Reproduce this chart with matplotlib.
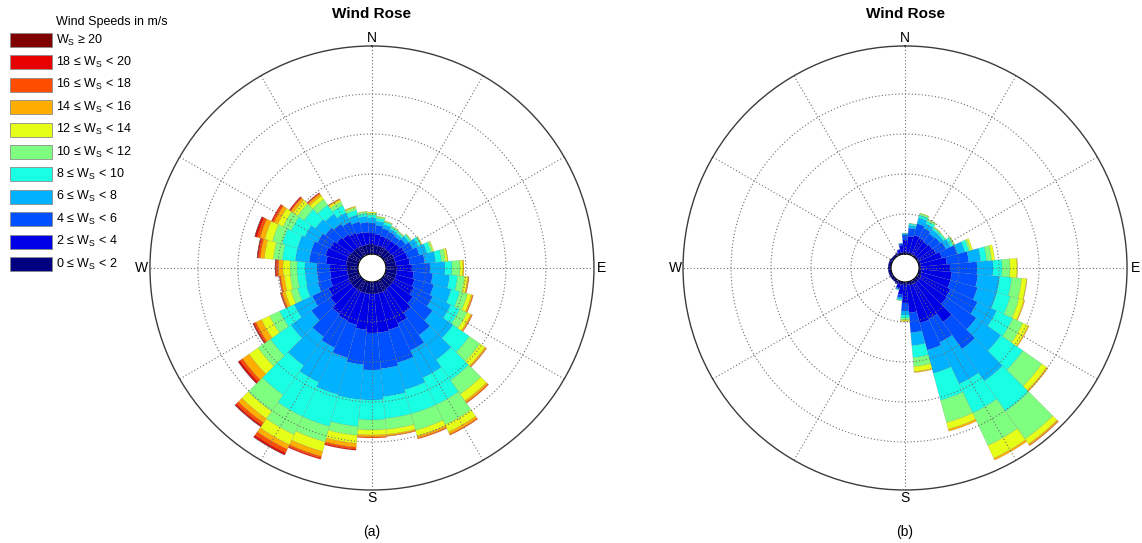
import numpy as np
import matplotlib.pyplot as plt
from matplotlib.patches import Rectangle

plt.rcParams['font.family'] = 'Liberation Sans'
plt.rcParams['mathtext.fontset'] = 'custom'
plt.rcParams['mathtext.rm'] = 'Liberation Sans'
plt.rcParams['mathtext.it'] = 'Liberation Sans:italic'

# sector centres (deg from north, clockwise)
directions = np.arange(0, 360, 10)

speed_labels = ['0 ≤ W$_\\mathregular{S}$ < 2', '2 ≤ W$_\\mathregular{S}$ < 4',
                '4 ≤ W$_\\mathregular{S}$ < 6', '6 ≤ W$_\\mathregular{S}$ < 8',
                '8 ≤ W$_\\mathregular{S}$ < 10', '10 ≤ W$_\\mathregular{S}$ < 12',
                '12 ≤ W$_\\mathregular{S}$ < 14', '14 ≤ W$_\\mathregular{S}$ < 16',
                '16 ≤ W$_\\mathregular{S}$ < 18', '18 ≤ W$_\\mathregular{S}$ < 20',
                'W$_\\mathregular{S}$ ≥ 20']
speed_colors = ['#000080', '#0000e6', '#0050ff', '#00b2ff', '#19ffe3', '#7fff7f',
                '#e6ff19', '#ffae00', '#ff4d00', '#e60000', '#800000']

# (a) counts per sector for each speed bin
a_00_02 = [10, 9, 9, 9, 9, 9, 10, 10, 10, 11, 11, 11, 11, 11, 11, 12, 12, 12,
           12, 12, 12, 12, 12, 12, 12, 11, 11, 11, 12, 12, 12, 11, 11, 10, 10, 10]
a_02_04 = [11, 11, 10, 10, 10, 11, 12, 13, 14, 15, 17, 19, 21, 25, 30, 35, 38, 39,
           39, 36, 33, 32, 30, 25, 22, 18, 17, 17, 20, 22, 20, 18, 16, 15, 13, 12]
a_04_06 = [10, 9, 8, 7, 6, 7, 9, 12, 15, 18, 19, 20, 21, 24, 27, 30, 34, 36,
           37, 35, 34, 30, 28, 23, 18, 13, 13, 13, 17, 15, 14, 14, 13, 12, 11, 10]
a_06_08 = [5, 4, 4, 3, 3, 4, 6, 8, 11, 15, 17, 18, 20, 25, 30, 30, 28, 28,
           30, 35, 38, 38, 35, 25, 20, 12, 12, 12, 14, 14, 14, 12, 12, 10, 7, 6]
a_08_10 = [3, 3, 2.5, 2, 2, 2, 3, 4, 6, 7, 8, 9, 10, 20, 25, 30, 25, 22,
           20, 27, 33, 38, 36, 25, 16, 9, 8, 8, 13, 16, 15, 14, 11, 8, 5, 3]
a_10_12 = [2, 1.5, 1, 1, 1, 1, 1, 2, 4, 8, 7, 8, 8, 13, 17, 22, 17, 11,
           10, 9, 16, 20, 20, 15, 11, 7, 7, 7, 9, 10, 9, 8, 7, 4, 2.5, 1.5]
a_12_14 = [1, 0.5, 0.5, 0.3, 0.3, 0.3, 0.5, 1, 2, 3, 3, 4, 4, 6, 8, 8, 6, 5,
           5, 8, 10, 11, 9, 11, 9, 6, 6, 7, 9, 8, 6, 5, 4, 2, 1, 0.5]
a_14_16 = [0, 0, 0, 0, 0, 0, 0, 0, 0.5, 1, 1, 1.5, 1.5, 1.5, 2, 2.5, 2, 1.5,
           2, 4, 5, 5, 5, 8, 6, 3, 3.5, 4.5, 4, 5, 4, 3, 2.5, 1, 0.5, 0]
a_16_18 = [0, 0, 0, 0, 0, 0, 0, 0, 0, 0, 0.5, 0.5, 0.5, 0.5, 1, 1, 1, 0.5,
           1, 2, 2, 4, 3, 3, 2, 1.5, 1, 2, 2, 3, 2, 1, 1, 0.5, 0, 0]
a_18_20 = [0, 0, 0, 0, 0, 0, 0, 0, 0, 0, 0, 0, 0, 0, 0, 0, 0, 0,
           0, 1, 1, 2, 1.5, 2, 1, 0.5, 0.5, 1, 1, 2, 1, 1, 0.5, 0, 0, 0]
a_20_up = [0, 0, 0, 0, 0, 0, 0, 0, 0, 0, 0, 0, 0, 0, 0, 0, 0, 0,
           0, 0, 0, 0.5, 0.5, 0.5, 0.5, 0, 0, 0.5, 0.5, 0.5, 0, 0, 0, 0, 0, 0]

# (b) counts per sector for each speed bin
b_00_02 = [2, 2, 2, 2, 2, 2, 2, 2, 2, 2, 3, 3, 4, 4, 4, 4, 4, 3,
           3, 3, 3, 3, 3, 3, 3, 3, 3, 3, 3, 3, 3, 2.5, 2.5, 2.5, 2, 2]
b_02_04 = [12, 16, 18, 17, 16, 17, 18, 22, 26, 29, 30, 30, 32, 33, 48, 38, 39, 28,
           18, 10, 4, 1, 0, 0, 0, 0, 0, 0, 0, 0, 0, 0, 0, 0.5, 3, 7]
b_04_06 = [5, 8, 12, 11, 10, 10, 11, 16, 22, 27, 26, 28, 30, 36, 33, 26, 28, 20,
           8, 3, 1, 0, 0, 0, 0, 0, 0, 0, 0, 0, 0, 0, 0, 0, 0.5, 1.5]
b_06_08 = [1.5, 3, 6, 5, 5, 4, 5, 8, 12, 16, 22, 20, 21, 30, 39, 46, 24, 13,
           4, 1.5, 0.5, 0, 0, 0, 0, 0, 0, 0, 0, 0, 0, 0, 0, 0, 0, 0.5]
b_08_10 = [0.5, 1.5, 3, 3, 2, 2, 3, 4, 6, 9, 12, 14, 18, 27, 37, 32, 28, 12,
           3, 1, 0.5, 0, 0, 0, 0, 0, 0, 0, 0, 0, 0, 0, 0, 0, 0, 0]
b_10_12 = [0, 0.5, 1.5, 1.5, 1, 1, 1.5, 2, 5, 8, 10, 9, 11, 23, 34, 36, 23, 9,
           2, 0.5, 0, 0, 0, 0, 0, 0, 0, 0, 0, 0, 0, 0, 0, 0, 0, 0]
b_12_14 = [0, 0, 0.5, 0.5, 0.5, 0, 0.5, 2, 3, 7, 5, 5, 6, 6, 6, 14, 7, 5,
           1, 0, 0, 0, 0, 0, 0, 0, 0, 0, 0, 0, 0, 0, 0, 0, 0, 0]
b_14_16 = [0, 0, 0, 0, 0, 0, 0, 0, 0, 0.5, 0.5, 1, 1, 1.5, 1.5, 2, 2, 1,
           0.5, 0, 0, 0, 0, 0, 0, 0, 0, 0, 0, 0, 0, 0, 0, 0, 0, 0]
b_16_18 = [0, 0, 0, 0, 0, 0, 0, 0, 0, 0, 0, 0, 0, 0, 0.5, 0, 0, 0,
           0, 0, 0, 0, 0, 0, 0, 0, 0, 0, 0, 0, 0, 0, 0, 0, 0, 0]
b_18_20 = [0] * 36
b_20_up = [0] * 36

rose_a = [a_00_02, a_02_04, a_04_06, a_06_08, a_08_10, a_10_12,
          a_12_14, a_14_16, a_16_18, a_18_20, a_20_up]
rose_b = [b_00_02, b_02_04, b_04_06, b_06_08, b_08_10, b_10_12,
          b_12_14, b_14_16, b_16_18, b_18_20, b_20_up]

rings = [40, 80, 120, 160]
r_hole = 14
r_max = 208


def draw_rose(ax, bins):
    theta = np.deg2rad(directions)
    width = np.deg2rad(10)
    bottom = np.zeros(len(directions))
    for counts, col in zip(bins, speed_colors):
        h = np.asarray(counts, dtype=float)
        m = h > 0
        ax.bar(theta[m], h[m], width=width, bottom=bottom[m], color=col,
               edgecolor=(0.3, 0.3, 0.3, 0.3), linewidth=0.3, zorder=2)
        bottom += h

    ax.set_theta_zero_location('N')
    ax.set_theta_direction(-1)
    ax.set_rorigin(-r_hole)
    ax.set_rlim(0, r_max)
    ax.grid(False)
    ax.set_xticks([])
    ax.set_yticks([])
    ax.spines['inner'].set_visible(False)
    ax.spines['polar'].set_color('#3c3c3c')
    ax.spines['polar'].set_linewidth(1.0)

    t = np.linspace(0, 2 * np.pi, 721)
    for r in rings:
        ax.plot(t, np.full_like(t, r), color='#6e6e6e', lw=0.8,
                ls=(0, (1, 2)), zorder=3)
    for a in range(0, 360, 30):
        ax.plot([np.deg2rad(a)] * 2, [0, r_max], color='#6e6e6e', lw=0.8,
                ls=(0, (1, 2)), zorder=3)

    for a, lab in zip([0, 90, 180, 270], ['N', 'E', 'S', 'W']):
        ax.text(np.deg2rad(a), 216, lab, fontsize=10, ha='center',
                va='center', clip_on=False)


fig = plt.figure(figsize=(11.42, 5.43), dpi=100)
fig.patch.set_facecolor('white')

ax_a = fig.add_axes([0.1313, 0.0976, 0.3888, 0.8177], projection='polar')
ax_b = fig.add_axes([0.5981, 0.0976, 0.3888, 0.8177], projection='polar')
draw_rose(ax_a, rose_a)
draw_rose(ax_b, rose_b)

for xc, tag in [(372, '(a)'), (905, '(b)')]:
    fig.text(xc / 1142, 1 - 14 / 543, 'Wind Rose', fontsize=11,
             fontweight='bold', ha='center', va='center')
    fig.text(xc / 1142, 1 - 532 / 543, tag, fontsize=10,
             ha='center', va='center')

# speed key
key = fig.add_axes([0, 0, 1, 1])
key.set_xlim(0, 1142)
key.set_ylim(543, 0)
key.axis('off')
key.text(56, 22, 'Wind Speeds in m/s', fontsize=9, va='center')
for i, (lab, col) in enumerate(zip(speed_labels[::-1], speed_colors[::-1])):
    y = 40 + 22.4 * i
    key.add_patch(Rectangle((10, y - 7), 42, 14, facecolor=col,
                            edgecolor='#8c8c8c', lw=0.6))
    key.text(56, y, lab, fontsize=9, va='center')

fig.savefig('out.png', dpi=100)
